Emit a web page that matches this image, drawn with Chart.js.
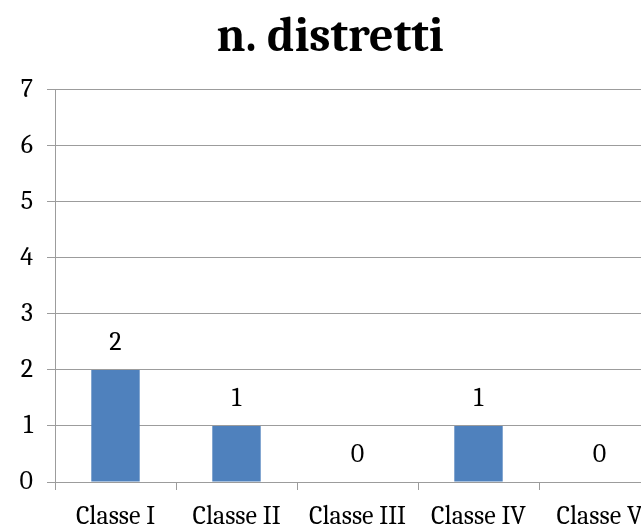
<!DOCTYPE html>
<html>
<head>
<meta charset="utf-8">
<script src="https://cdn.jsdelivr.net/npm/chart.js@4/dist/chart.umd.min.js"></script>
<style>
  html, body { margin: 0; padding: 0; background: #fff; overflow: hidden; }
  #wrap { width: 641px; height: 526px; overflow: hidden; }
</style>
</head>
<body>
<div id="wrap"><canvas id="chartDistretti" width="680" height="526"></canvas></div>
<script>
// generale
const serif = "Cambria, Caladea, 'DejaVu Serif', serif";

const classi = ['Classe I', 'Classe II', 'Classe III', 'Classe IV', 'Classe V'];
const distretti = [2, 1, 0, 1, 0];
const asseY = [0, 1, 2, 3, 4, 5, 6, 7];

// etichette con il valore sopra le barre
const etichetteValori = {
    id: 'etichetteValori',
    afterDatasetsDraw(chart) {
        const { ctx } = chart;
        ctx.save();
        ctx.font = '26px ' + serif;
        ctx.fillStyle = '#000';
        ctx.textAlign = 'center';
        ctx.textBaseline = 'middle';
        chart.getDatasetMeta(0).data.forEach((bar, i) => {
            ctx.fillText(String(distretti[i]), bar.x, bar.y - 27);
        });
        ctx.restore();
    }
};

const grigio = '#9c9c9c';

new Chart(document.getElementById('chartDistretti'), {
    type: 'bar',
    data: {
        labels: classi,
        datasets: [{
            label: 'n. distretti',
            data: distretti,
            backgroundColor: '#4f81bd',
            categoryPercentage: 1,
            barPercentage: 0.4
        }]
    },
    options: {
        responsive: false,
        animation: false,
        layout: { padding: { right: 20 } },
        plugins: {
            legend: { display: false },
            tooltip: { enabled: false },
            title: {
                display: true,
                text: 'n. distretti',
                color: '#000',
                font: { family: serif, size: 48, weight: 'bold' },
                padding: { top: 9, bottom: 23 }
            }
        },
        scales: {
            x: {
                grid: { display: true, drawOnChartArea: false, color: grigio, tickLength: 8, offset: true },
                border: { color: grigio },
                ticks: { color: '#000', font: { family: serif, size: 26 }, padding: 11 },
                afterFit(scale) { scale.height = 44; }
            },
            y: {
                min: 0,
                max: asseY[asseY.length - 1],
                ticks: {
                    stepSize: 1,
                    color: '#000',
                    font: { family: serif, size: 26 },
                    padding: 14,
                    callback: (v) => asseY.includes(v) ? String(v) : ''
                },
                grid: { color: grigio, tickLength: 8 },
                border: { color: grigio },
                afterFit(scale) { scale.width = 55; }
            }
        }
    },
    plugins: [etichetteValori]
});
</script>
</body>
</html>
